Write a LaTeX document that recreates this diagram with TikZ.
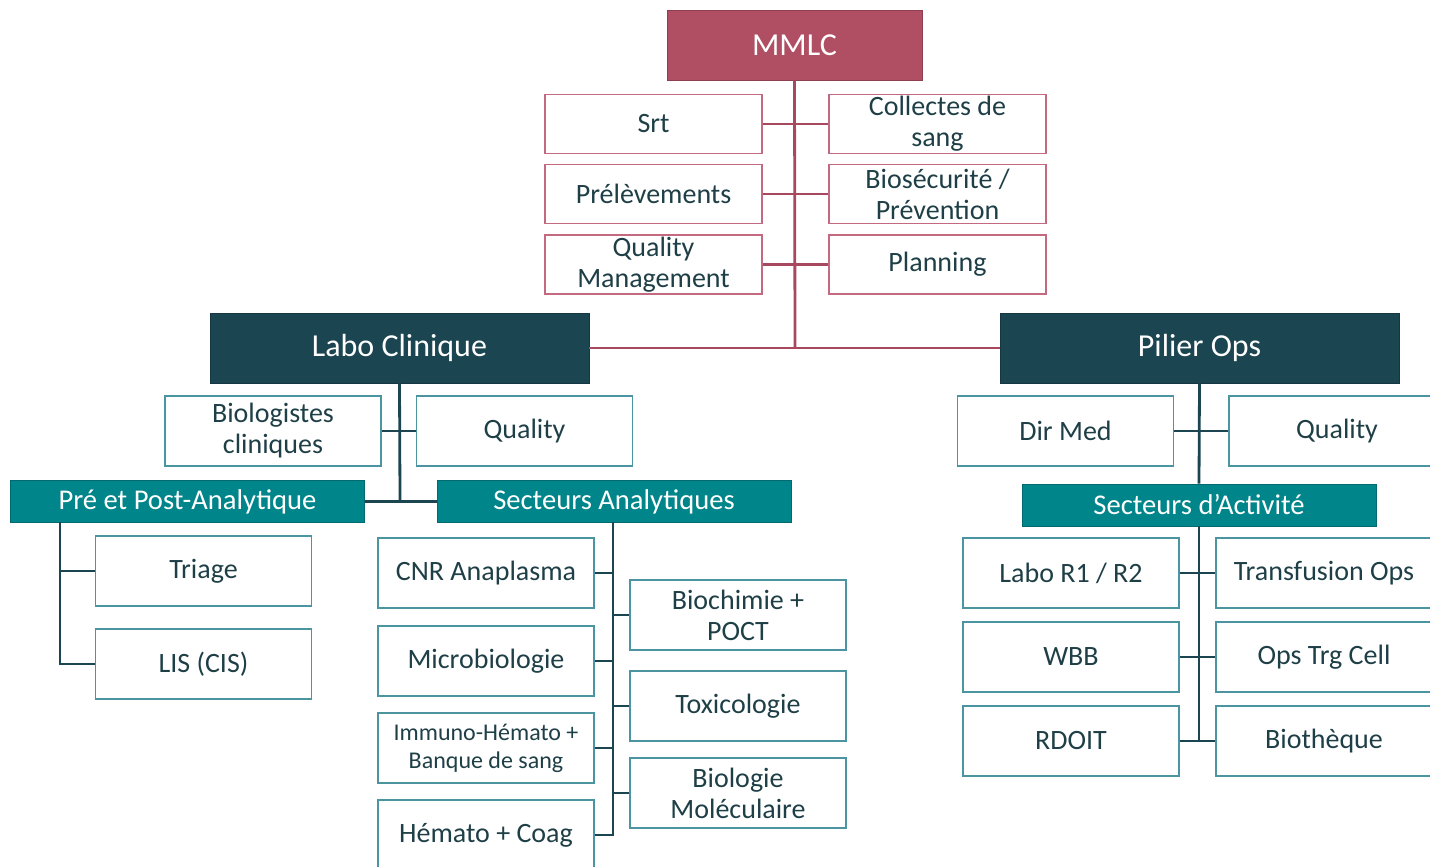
\documentclass[tikz,border=0pt]{standalone}
\usepackage{fontspec}
\setmainfont{Carlito}
\definecolor{rosefill}{HTML}{B04E63}
\definecolor{roseline}{HTML}{A8485E}
\definecolor{roseedge}{HTML}{C46A80}
\definecolor{petrol}{HTML}{1B4551}
\definecolor{teal}{HTML}{00858A}
\definecolor{tealedge}{HTML}{4A95A0}
\definecolor{ink}{HTML}{1F3F47}

\begin{document}
\begin{tikzpicture}[x=0.5pt,y=-0.5pt]

\tikzstyle{txt}=[font=\fontsize{14}{15.5}\selectfont, align=center, inner sep=0pt]
\tikzstyle{topbox}=[txt, draw=rosefill!80!black, fill=rosefill, text=white,
  minimum width=127.5pt, minimum height=35pt, font=\fontsize{16}{18}\selectfont]
\tikzstyle{rosebox}=[txt, draw=roseedge, line width=0.6pt, text=ink,
  minimum width=108.5pt, minimum height=29.5pt]
\tikzstyle{pillar}=[txt, draw=petrol!80!black, fill=petrol, text=white,
  minimum height=35pt, font=\fontsize{16}{18}\selectfont]
\tikzstyle{sector}=[txt, draw=teal!80!black, fill=teal, text=white,
  minimum width=177pt, minimum height=21pt, font=\fontsize{14.3}{16}\selectfont]
\tikzstyle{box}=[txt, draw=tealedge, line width=0.6pt, text=ink,
  minimum width=108pt, minimum height=35pt]
\tikzstyle{roselink}=[draw=roseline, line width=1.1pt]
\tikzstyle{link}=[draw=petrol, line width=1.4pt]

\useasboundingbox (0,0) rectangle (1430,867);

% MMLC and support functions
\node[topbox] (mmlc) at (794.5,45) {MMLC};
\node[rosebox] (srt) at (653.5,124) {Srt};
\node[rosebox] (collectes) at (937.5,124) {Collectes de\\sang};
\node[rosebox] (prelev) at (653.5,194) {Prélèvements};
\node[rosebox] (biosec) at (937.5,194) {Biosécurité /\\Prévention};
\node[rosebox] (qualmgmt) at (653.5,264.5) {Quality\\Management};
\node[rosebox] (planning) at (937.5,264.5) {Planning};

% pillars
\node[pillar, minimum width=189.5pt] (labo) at (399.5,348) {Labo Clinique};
\node[pillar, minimum width=199.5pt] (pilier) at (1199.5,348) {Pilier Ops};

% Labo Clinique
\node[box] (biolog) at (273,431) {Biologistes\\cliniques};
\node[box] (qualL) at (524.5,431) {Quality};
\node[sector] (preana) at (187.5,501.5) {Pré et Post-Analytique};
\node[sector] (secana) at (614,501.5) {Secteurs Analytiques};
\node[box] (triage) at (203.5,571) {Triage};
\node[box] (lis) at (203.5,664) {LIS (CIS)};
\node[box] (cnr) at (486,573) {CNR Anaplasma};
\node[box] (microbio) at (486,661) {Microbiologie};
\node[box, font=\fontsize{12}{14}\selectfont] (immuno) at (486,748) {Immuno-Hémato +\\Banque de sang};
\node[box] (hemato) at (486,835) {Hémato + Coag};
\node[box] (biochimie) at (738,615) {Biochimie +\\POCT};
\node[box] (toxico) at (738,706) {Toxicologie};
\node[box] (biomol) at (738,793) {Biologie\\Moléculaire};

% Pilier Ops
\node[box] (dirmed) at (1065.5,431) {Dir Med};
\node[box] (qualR) at (1337,431) {Quality};
\node[sector] (secact) at (1199,505) {Secteurs d’Activité};
\node[box] (labor) at (1071,573) {Labo R1 / R2};
\node[box] (transfu) at (1324,573) {Transfusion Ops};
\node[box] (wbb) at (1071,657) {WBB};
\node[box] (opstrg) at (1324,657) {Ops Trg Cell};
\node[box] (rdoit) at (1071,741) {RDOIT};
\node[box] (biotheque) at (1324,741) {Biothèque};

\coordinate (hub) at (795,348);
\coordinate (labohub) at (400,500);
\coordinate (pretop) at (60,522);
\coordinate (satop) at (613,522);
\coordinate (opsend) at (1199,741);

% connectors
\draw[roselink, line width=1.4pt] (mmlc.south) -- (hub);
\draw[roselink] (labo.east) -- (pilier.west);
\foreach \l/\r in {srt/collectes, prelev/biosec, qualmgmt/planning}
  \draw[roselink] (\l.east) -- (\r.west);

\draw[link] (labo.south) -- (labohub);
\draw[link] (biolog.east) -- (qualL.west);
\draw[link] (preana.east) -- (secana.west);
\foreach \b in {triage, lis}
  \draw[link] (pretop) |- (\b.west);
\foreach \b in {cnr, microbio, immuno, hemato}
  \draw[link] (\b.east) -| (satop);
\foreach \b in {biochimie, toxico, biomol}
  \draw[link] (\b.west) -| (satop);

\draw[link] (pilier.south) -- (secact.north);
\draw[link] (secact.south) -- (opsend);
\draw[link] (dirmed.east) -- (qualR.west);
\foreach \l/\r in {labor/transfu, wbb/opstrg, rdoit/biotheque}
  \draw[link] (\l.east) -- (\r.west);
\end{tikzpicture}
\end{document}
